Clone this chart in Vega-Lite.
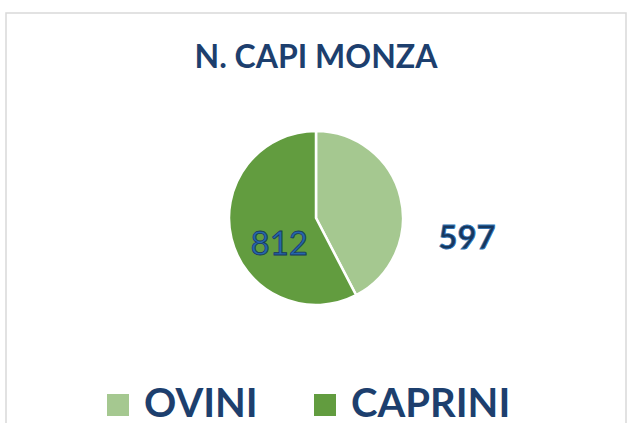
{
  "$schema": "https://vega.github.io/schema/vega-lite/v6.json",
  "width": 620,
  "height": 410,
  "autosize": {"type": "none"},
  "padding": {"left": 6, "top": 13, "right": 1, "bottom": 13},
  "background": "white",
  "view": {"stroke": "#d9d9d9", "strokeWidth": 1.5, "fill": "white", "strokeDash": [1030, 620, 420, 0]},
  "title": {
    "text": "N. CAPI MONZA",
    "offset": -62,
    "fontSize": 32,
    "font": "Lato",
    "fontWeight": "bold",
    "color": "#1d3f6e",
    "anchor": "middle",
    "frame": "group"
  },
  "data": {"values": [
    {"categoria": "OVINI", "capi": 597},
    {"categoria": "CAPRINI", "capi": 812}
  ]},
  "encoding": {
    "theta": {"field": "capi", "type": "quantitative", "stack": true},
    "order": {"field": "capi", "sort": "ascending"}
  },
  "layer": [
    {
      "mark": {"type": "arc", "outerRadius": 87, "stroke": "white", "strokeWidth": 2.5},
      "encoding": {
        "color": {
          "field": "categoria",
          "type": "nominal",
          "scale": {"domain": ["OVINI", "CAPRINI"], "range": ["#a5c890", "#629c3f"]},
          "legend": {
            "orient": "none",
            "legendX": 92,
            "legendY": 372,
            "direction": "horizontal",
            "title": null,
            "symbolType": "square",
            "symbolSize": 484,
            "symbolStrokeWidth": 0,
            "symbolOpacity": 1,
            "labelFontSize": 40,
            "labelFont": "Lato",
            "labelFontWeight": "bold",
            "labelColor": "#1d3f6e",
            "labelOffset": 6,
            "columnPadding": 47,
            "padding": 0,
            "labelLimit": 0
          }
        }
      }
    },
    {
      "mark": {"type": "text", "radius": 45, "dx": 7, "dy": 16, "fontSize": 33, "font": "Lato", "fill": "#2566ad", "stroke": "#17375e", "strokeWidth": 0.8},
      "encoding": {
        "detail": {"field": "categoria", "type": "nominal"},
        "text": {"field": "capi", "type": "quantitative"},
        "opacity": {"condition": {"test": "datum.categoria === 'CAPRINI'", "value": 1}, "value": 0}
      }
    },
    {
      "mark": {"type": "text", "radius": 140, "dx": 15, "dy": 54, "fontSize": 33, "font": "Lato", "fontWeight": "bold", "fill": "#17375e", "stroke": "#2e75b6", "strokeWidth": 0.8},
      "encoding": {
        "detail": {"field": "categoria", "type": "nominal"},
        "text": {"field": "capi", "type": "quantitative"},
        "opacity": {"condition": {"test": "datum.categoria === 'OVINI'", "value": 1}, "value": 0}
      }
    }
  ]
}
